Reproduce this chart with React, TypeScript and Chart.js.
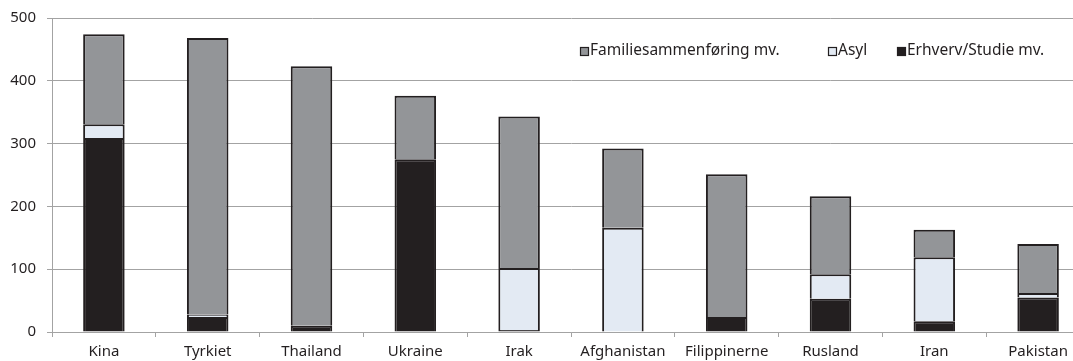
import React, { useEffect, useRef } from "react";
import { Chart, registerables } from "chart.js";

Chart.register(...registerables);

const categories = ["Kina", "Tyrkiet", "Thailand", "Ukraine", "Irak", "Afghanistan", "Filippinerne", "Rusland", "Iran", "Pakistan"];
const erhverv = [309, 24, 10, 275, 3, 0, 24, 53, 17, 55];
const asyl = [22, 4, 0, 0, 99, 166, 0, 39, 102, 7];
const familie = [143, 440, 413, 101, 241, 126, 227, 124, 44, 78];
const yTicks = [0, 100, 200, 300, 400, 500];

const FONT = "'Noto Sans', sans-serif";
const TEXT = "#231f20";
const GRID = "#a3a3a3";

const legendItems = [
  { label: "Familiesammenføring mv.", color: "#939598", x: 580 },
  { label: "Asyl", color: "#e3eaf3", x: 828 },
  { label: "Erhverv/Studie mv.", color: "#231f20", x: 897 },
];

const legendPlugin = {
  id: "insideLegend",
  afterDraw(chart: any) {
    const ctx = chart.ctx;
    ctx.save();
    ctx.font = `15.5px ${FONT}`;
    ctx.textBaseline = "middle";
    const y = 51;
    legendItems.forEach((it) => {
      ctx.fillStyle = it.color;
      ctx.fillRect(it.x, y - 4, 9, 9);
      ctx.strokeStyle = TEXT;
      ctx.lineWidth = 1.2;
      ctx.strokeRect(it.x + 0.5, y - 3.5, 8, 8);
      ctx.fillStyle = TEXT;
      ctx.fillText(it.label, it.x + 10, y);
    });
    ctx.restore();
  },
};

export default function App() {
  const ref = useRef<HTMLCanvasElement>(null);
  useEffect(() => {
    if (!ref.current) return;
    const mk = (label: string, data: number[], color: string) => ({
      label,
      data,
      backgroundColor: color,
      borderColor: TEXT,
      borderWidth: (c: any) => (c.raw === 0 ? 0 : 2),
      borderSkipped: "start",
      inflateAmount: 0,
      barPercentage: 0.4,
      categoryPercentage: 1,
    });
    const chart = new Chart(ref.current, {
      type: "bar",
      data: {
        labels: categories,
        datasets: [
          mk("Erhverv/Studie mv.", erhverv, "#231f20"),
          mk("Asyl", asyl, "#e3eaf3"),
          mk("Familiesammenføring mv.", familie, "#939598"),
        ],
      },
      options: {
        responsive: false,
        animation: false,
        layout: { padding: { top: 18, right: 0, left: 0, bottom: 0 } },
        plugins: { legend: { display: false }, tooltip: { enabled: false } },
        scales: {
          x: {
            stacked: true,
            grid: { display: true, drawOnChartArea: false, color: GRID, tickLength: 5, offset: true },
            border: { display: true, color: GRID, width: 1 },
            ticks: { color: TEXT, font: { family: FONT, size: 15 }, padding: 6, maxRotation: 0, autoSkip: false },
            afterFit(scale: any) { scale.height = 29; scale.paddingLeft = 0; scale.paddingRight = 0; },
          },
          y: {
            stacked: true,
            min: 0,
            max: 500,
            afterBuildTicks(scale: any) { scale.ticks = yTicks.map((v) => ({ value: v })); },
            grid: { color: GRID, tickLength: 5, lineWidth: 1 },
            border: { display: true, color: GRID, width: 1 },
            ticks: { color: TEXT, font: { family: FONT, size: 15 }, padding: 11 },
            afterFit(scale: any) { scale.width = 52; scale.paddingTop = 0; scale.paddingBottom = 0; },
          },
        },
      },
      plugins: [legendPlugin],
    });
    return () => chart.destroy();
  }, []);
  return (
    <div style={{ position: "fixed", left: 0, top: 0, width: 1073, height: 361, overflow: "hidden", background: "#fff" }}>
      <canvas ref={ref} width={1090} height={361} style={{ display: "block" }} />
    </div>
  );
}
